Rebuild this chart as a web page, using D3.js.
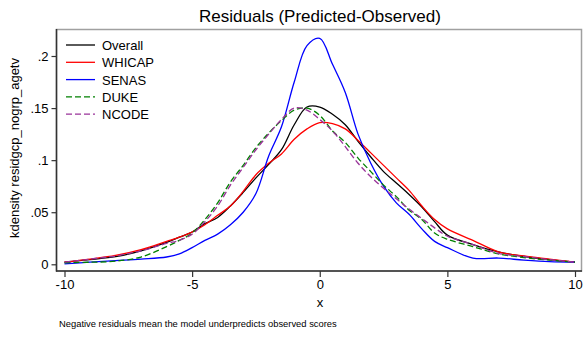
<!DOCTYPE html>
<html>
<head>
<meta charset="utf-8">
<script src="https://cdn.jsdelivr.net/npm/d3@7"></script>
<style>
  body { margin: 0; background: #fff; }
  svg { display: block; font-family: "Liberation Sans", Arial, sans-serif; }
</style>
</head>
<body>
<div id="chart"></div>
<script>
// residual grid (x) and kernel density readings per group
var xGrid = [-10, -9, -8, -7, -6, -5.5, -5, -4.5, -4, -3.5, -3, -2.5, -2, -1.5, -1, -0.5,
             0, 0.5, 1, 1.5, 2, 2.5, 3, 3.5, 4, 4.5, 5, 6, 7, 8, 9, 10];

var overall = [0.002, 0.0045, 0.0073, 0.013, 0.021, 0.026, 0.031, 0.039, 0.045, 0.056, 0.069, 0.083, 0.096, 0.110, 0.134, 0.151,
               0.151, 0.144, 0.134, 0.118, 0.103, 0.089, 0.078, 0.067, 0.055, 0.041, 0.028, 0.019, 0.012, 0.0075, 0.0045, 0.002];
var whicap  = [0.002, 0.005, 0.0085, 0.014, 0.022, 0.026, 0.031, 0.038, 0.047, 0.056, 0.070, 0.086, 0.097, 0.106, 0.120, 0.130,
               0.136, 0.135, 0.130, 0.119, 0.107, 0.095, 0.083, 0.071, 0.056, 0.043, 0.034, 0.023, 0.012, 0.008, 0.005, 0.002];
var senas   = [0.0005, 0.002, 0.0035, 0.005, 0.007, 0.010, 0.016, 0.023, 0.029, 0.038, 0.050, 0.068, 0.104, 0.132, 0.175, 0.210,
               0.217, 0.192, 0.165, 0.125, 0.097, 0.075, 0.059, 0.048, 0.034, 0.022, 0.016, 0.006, 0.006, 0.004, 0.0025, 0.002];
var duke    = [0.0015, 0.002, 0.003, 0.007, 0.017, 0.023, 0.030, 0.043, 0.059, 0.079, 0.095, 0.112, 0.126, 0.138, 0.148, 0.150,
               0.143, 0.128, 0.117, 0.102, 0.089, 0.076, 0.065, 0.052, 0.043, 0.030, 0.024, 0.017, 0.010, 0.0065, 0.004, 0.002];
var ncode   = [0.002, 0.005, 0.008, 0.013, 0.020, 0.023, 0.029, 0.041, 0.056, 0.076, 0.093, 0.110, 0.125, 0.139, 0.150, 0.148,
               0.139, 0.128, 0.113, 0.097, 0.084, 0.073, 0.063, 0.053, 0.044, 0.035, 0.027, 0.019, 0.0105, 0.0075, 0.0045, 0.002];

var seriesNames = ["Overall", "WHICAP", "SENAS", "DUKE", "NCODE"];
var xTicks = [-10, -5, 0, 5, 10];
var yTicks = [0, 0.05, 0.1, 0.15, 0.2];
var yTickLabels = ["0", ".05", ".1", ".15", ".2"];

var seriesValues = [overall, whicap, senas, duke, ncode];
var seriesColors = ["#000000", "#ff0000", "#0000ff", "#008000", "#993399"];
var seriesDash = [null, null, null, "6,3", "6,3"];

var width = 583, height = 337;

var svg = d3.select("#chart")
  .append("svg")
  .attr("width", width)
  .attr("height", height);

var x = d3.scaleLinear().domain([-10, 10]).range([64.5, 575]);
var y = d3.scaleLinear().domain([0, 0.2]).range([264.3, 56]);

// plot region frame
svg.append("rect")
  .attr("x", 56.5)
  .attr("y", 29.5)
  .attr("width", 525)
  .attr("height", 241.5)
  .style("fill", "none")
  .style("stroke", "#a0a0a0")
  .style("stroke-width", 1.5);

// axes
var yAxis = svg.append("g")
  .attr("transform", "translate(56.5,0)")
  .call(d3.axisLeft(y).tickValues(yTicks).tickSize(5).tickPadding(3)
    .tickFormat(function(d, i) { return yTickLabels[i]; }));

var xAxis = svg.append("g")
  .attr("transform", "translate(0,271)")
  .call(d3.axisBottom(x).tickValues(xTicks).tickSize(6).tickPadding(3)
    .tickFormat(function(d) { return d; }));

[yAxis, xAxis].forEach(function(ax) {
  ax.select(".domain").remove();
  ax.selectAll("line").style("stroke", "#333").style("stroke-width", 1.2);
  ax.selectAll("text")
    .style("font-family", "'Liberation Sans', Arial, sans-serif")
    .style("font-size", "13px")
    .style("fill", "#000");
});

svg.append("line")
  .attr("x1", 56.5).attr("x2", 56.5)
  .attr("y1", 29).attr("y2", 271.5)
  .style("stroke", "#333").style("stroke-width", 1.5);

svg.append("line")
  .attr("x1", 56).attr("x2", 582)
  .attr("y1", 271).attr("y2", 271)
  .style("stroke", "#333").style("stroke-width", 1.5);

// curves
var line = d3.line()
  .x(function(d) { return x(d[0]); })
  .y(function(d) { return y(d[1]); })
  .curve(d3.curveCatmullRom.alpha(0.5));

seriesValues.forEach(function(vals, i) {
  var pts = xGrid.map(function(g, j) { return [g, vals[j]]; });
  svg.append("path")
    .datum(pts)
    .attr("d", line)
    .style("fill", "none")
    .style("stroke", seriesColors[i])
    .style("stroke-width", 1.3)
    .style("stroke-dasharray", seriesDash[i]);
});

// legend
var legend = svg.append("g").attr("transform", "translate(66,45)");

seriesNames.forEach(function(name, i) {
  var row = legend.append("g").attr("transform", "translate(0," + (i * 17.3) + ")");
  row.append("line")
    .attr("x1", 0).attr("x2", 29)
    .style("stroke", seriesColors[i])
    .style("stroke-width", 1.3)
    .style("stroke-dasharray", seriesDash[i]);
  row.append("text")
    .attr("x", 36)
    .attr("y", 5)
    .attr("font-size", "13px")
    .text(name);
});

// titles
svg.append("text")
  .attr("x", 320)
  .attr("y", 22)
  .attr("text-anchor", "middle")
  .attr("font-size", "17px")
  .text("Residuals (Predicted-Observed)");

svg.append("text")
  .attr("transform", "translate(19,148) rotate(-90)")
  .attr("text-anchor", "middle")
  .attr("font-size", "13px")
  .text("kdensity residgcp_nogrp_agetv");

svg.append("text")
  .attr("x", 320)
  .attr("y", 307)
  .attr("text-anchor", "middle")
  .attr("font-size", "13px")
  .text("x");

svg.append("text")
  .attr("x", 59)
  .attr("y", 327)
  .attr("font-size", "9.4px")
  .text("Negative residuals mean the model underpredicts observed scores");
</script>
</body>
</html>
